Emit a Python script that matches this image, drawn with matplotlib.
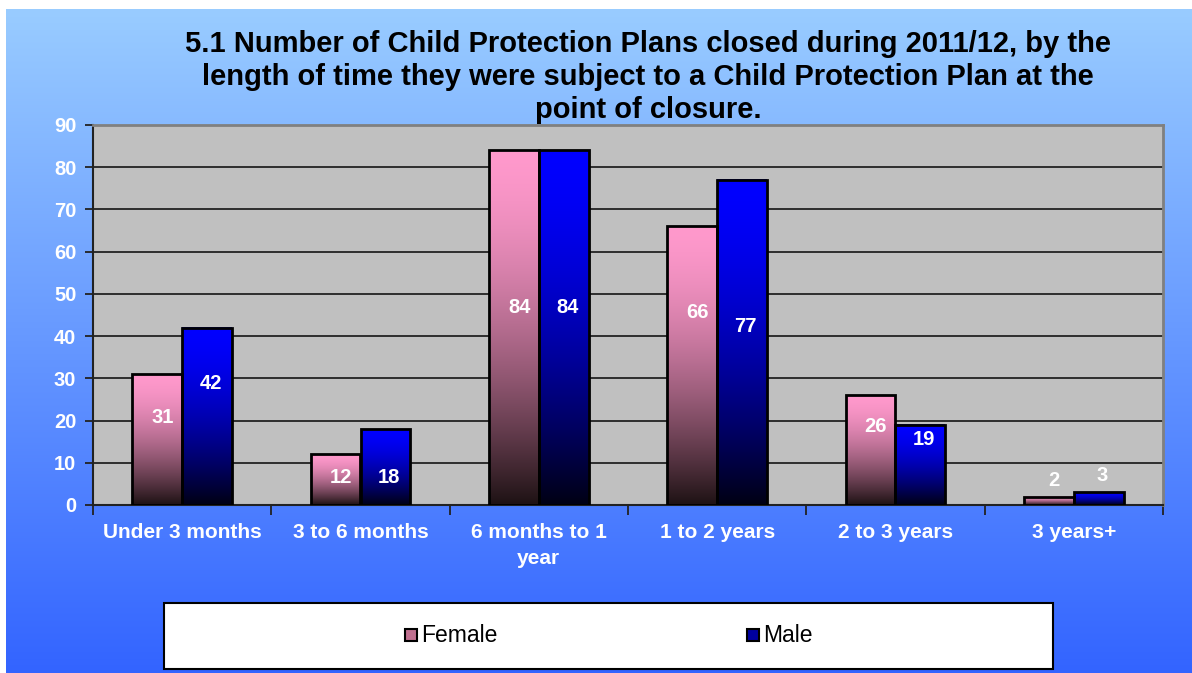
import numpy as np
import matplotlib
matplotlib.use("Agg")
import matplotlib.pyplot as plt
from matplotlib.patches import Rectangle

# ---- data ----
categories = ["Under 3 months", "3 to 6 months", "6 months to 1\nyear",
              "1 to 2 years", "2 to 3 years", "3 years+"]
female = [31, 12, 84, 66, 26, 2]
male = [42, 18, 84, 77, 19, 3]
# heights (data units) where the value labels sit in the reference
female_label_pos = [20.8, 6.4, 46.7, 45.7, 18.5, 5.9]
male_label_pos = [28.7, 6.4, 46.7, 42.2, 15.4, 7.1]
series_names = ["Female", "Male"]
yticks = list(range(0, 100, 10))
title = ("5.1 Number of Child Protection Plans closed during 2011/12, by the\n"
         "length of time they were subject to a Child Protection Plan at the\n"
         "point of closure.")

plt.rcParams['font.family'] = ['Liberation Sans', 'DejaVu Sans']

W, H = 1192, 673
fig = plt.figure(figsize=(W / 100, H / 100), dpi=100)
fig.patch.set_facecolor("white")

# background gradient
bg = fig.add_axes([6 / W, 0, 1 - 6 / W, (H - 9) / H], zorder=-10)
top_c = np.array([153, 204, 255]) / 255
bot_c = np.array([51, 100, 255]) / 255
t = np.linspace(0, 1, 256)[:, None]
grad = (top_c[None, :] * (1 - t) + bot_c[None, :] * t)[:, None, :]
bg.imshow(grad, aspect="auto", extent=[0, 1, 0, 1], origin="upper")
bg.set_axis_off()

ax = fig.add_axes([93 / W, (H - 505) / H, (1163 - 93) / W, (505 - 125) / H])
ax.set_facecolor("#C0C0C0")

x = np.arange(len(categories))
bw = 0.28
fb = ax.bar(x - bw / 2, female, bw, facecolor="none", edgecolor="black", lw=2, zorder=4)
mb = ax.bar(x + bw / 2, male, bw, facecolor="none", edgecolor="black", lw=2, zorder=4)


def gradient_fill(bars, top, bottom):
    top = np.array(top) / 255
    bottom = np.array(bottom) / 255
    n = 200
    s = np.linspace(0, 1, n)  # 0 = bottom, 1 = top
    f = 1 - (1 - s) ** 1.6
    f = f[:, None]
    arr = (bottom[None, :] * (1 - f) + top[None, :] * f)[:, None, :]
    for r in bars:
        x0, w, h = r.get_x(), r.get_width(), r.get_height()
        ax.imshow(arr, extent=[x0, x0 + w, 0, h], origin="lower",
                  aspect="auto", zorder=3, interpolation="bilinear")


gradient_fill(fb, (255, 153, 204), (30, 18, 20))
gradient_fill(mb, (0, 0, 255), (0, 0, 20))

ax.set_xlim(-0.5, len(categories) - 0.5)
ax.set_ylim(0, 90)

# labels
for xi, v, p in zip(x, female, female_label_pos):
    ax.text(xi - bw / 2 + 0.03, p, str(v), color="white", fontweight="bold",
            fontsize=14.5, ha="center", va="center", zorder=5)
for xi, v, p in zip(x, male, male_label_pos):
    ax.text(xi + bw / 2 + 0.02, p, str(v), color="white", fontweight="bold",
            fontsize=14.5, ha="center", va="center", zorder=5)

# grid
ax.set_yticks(yticks)
ax.yaxis.grid(True, color="#222222", lw=1.3)
ax.set_axisbelow(True)
ax.tick_params(axis="y", direction="out", length=6, width=1.3, color="#222222",
               labelcolor="white", labelsize=14.5, pad=6)
for lab in ax.get_yticklabels():
    lab.set_fontweight("bold")

ax.set_xticks(np.arange(-0.5, len(categories), 1.0))
ax.set_xticklabels([])
ax.set_xticks(x, minor=True)
ax.set_xticklabels(categories, minor=True, color="white", fontweight="bold",
                   fontsize=15)
ax.tick_params(axis="x", which="major", direction="out", length=7, width=1.3,
               color="#222222")
ax.tick_params(axis="x", which="minor", length=0, pad=13)
for lab in ax.get_xticklabels(minor=True):
    lab.set_linespacing(1.45)

for s in ["left", "bottom"]:
    ax.spines[s].set_color("#222222")
    ax.spines[s].set_linewidth(1.5)
for s in ["top", "right"]:
    ax.spines[s].set_color("#808080")
    ax.spines[s].set_linewidth(2)

# title
fig.text(648 / W, 1 - 77 / H, title, ha="center", va="center", fontsize=21,
         fontweight="bold", color="black", linespacing=1.24)

# legend (manual)
lx0, ly0, lx1, ly1 = 164, 603, 1053, 669
fig.patches.append(Rectangle((lx0 / W, 1 - ly1 / H), (lx1 - lx0) / W, (ly1 - ly0) / H,
                             transform=fig.transFigure, facecolor="white",
                             edgecolor="black", lw=1.5, zorder=5))
ly = 635
for name, col, mx in [("Female", "#C07090", 405), ("Male", "#0000A0", 747)]:
    sz = 12
    fig.patches.append(Rectangle((mx / W, 1 - (ly + sz / 2) / H), sz / W, sz / H,
                                 transform=fig.transFigure, facecolor=col,
                                 edgecolor="black", lw=1.5, zorder=6))
    fig.text((mx + sz + 4) / W, 1 - ly / H, name, ha="left", va="center",
             fontsize=16.5, color="black", zorder=7)

fig.savefig("out.png", dpi=100)
